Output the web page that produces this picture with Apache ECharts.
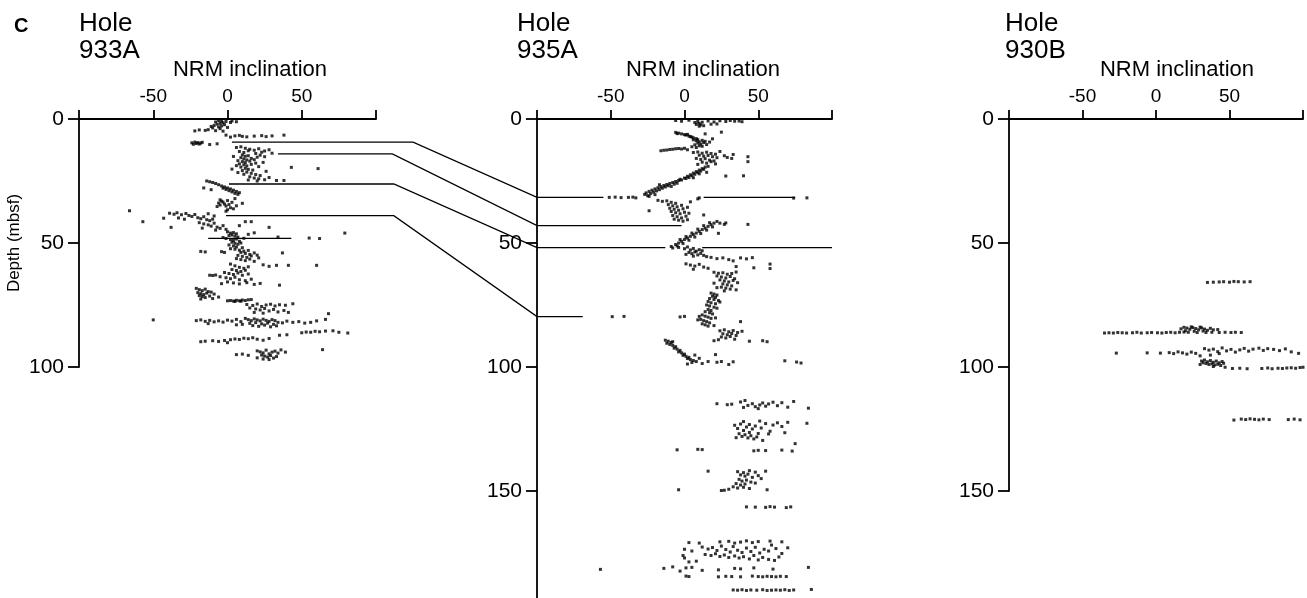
<!DOCTYPE html>
<html>
<head>
<meta charset="utf-8">
<title>NRM inclination</title>
<script src="https://cdn.jsdelivr.net/npm/echarts@6/dist/echarts.min.js"></script>
<style>
  html, body { margin: 0; padding: 0; background: #fff; }
  #chart { width: 1307px; height: 598px; }
</style>
</head>
<body>
<div id="chart"></div>
<script>
// hole names and depth range of each panel
var holeNames = ['933A', '935A', '930B'];
var depthMax = [100, 200, 150];

// NRM inclination [deg, depth mbsf]
var hole933A = [
  [-6,0.6],[-4,0.9],[-8,1.2],[-3,1.5],[-5,1.8],[-7,2.1],[-2,2.3],[-9,2.6],[-4,2.8],[-6,3.2],[-1,1.0],[2,1.4],
  [-11,3.0],[-10,3.6],[3,0.8],[6,1.1],[-5,3.9],[-13,4.3],[-15,4.6],[-19,4.4],[-22,4.8],[-8,4.7],[-3,4.9],[0,3.4],
  [5,6.8],[8,6.6],[10,7.0],[13,7.2],[18,6.9],[23,6.7],[26,7.1],[30,6.8],[38,6.5],[2,7.3],[-1,6.5],
  [-24,9.6],[-22,9.3],[-21,9.9],[-20,9.5],[-19,10.1],[-18,9.7],[-17,9.4],[-12,10.3],[-7,10.0],[-23,10.2],
  [6,11.5],[9,11.2],[12,11.8],[15,12.2],[18,12.6],[21,12.0],[25,12.9],[28,12.4],[8,13.1],[11,13.5],[14,12.8],
  [19,13.9],[23,13.4],[30,13.8],
  [10,14.5],[12,15.0],[14,14.8],[9,15.6],[11,16.1],[13,16.5],[16,15.9],[7,16.8],[10,17.2],[12,17.6],[15,17.0],
  [18,16.4],[20,15.4],[22,14.6],[25,15.2],[4,15.1],[8,18.1],[11,18.5],[13,18.9],[16,18.3],[19,17.8],[9,19.4],
  [12,19.9],[14,20.3],[10,20.8],[6,18.8],[3,20.2],[17,20.6],[21,19.2],[24,17.5],[13,21.4],[16,21.9],[19,22.4],
  [22,22.8],[11,22.3],[15,23.3],[18,23.8],[21,24.1],[25,24.5],[28,23.6],[14,24.6],[20,25.0],[43,19.5],[61,20.0],
  [33,24.8],[38,24.8],[7,21.6],[26,21.1],
  [-14,25.0],[-12,25.3],[-10,25.6],[-8,26.0],[-6,26.5],[-4,27.0],[-2,27.4],[0,27.8],[2,28.2],[4,28.7],[6,29.2],
  [8,29.7],[7,30.4],[5,30.0],[3,29.4],[1,28.9],[-1,28.4],[-3,27.9],[-16,27.8],[-11,28.5],
  [-5,32.6],[-4,33.1],[-3,33.5],[-6,33.9],[-2,34.3],[-5,34.7],[-1,35.1],[1,34.5],[3,33.6],[0,32.9],[5,32.1],[-7,35.3],
  [2,35.8],[4,36.2],[6,35.0],[0,36.6],[-1,37.2],[10,34.0],
  [-39,38.0],[-36,38.4],[-34,37.8],[-31,38.6],[-28,38.1],[-26,38.9],[-24,39.3],[-22,38.5],[-20,39.8],[-18,40.2],
  [-16,39.4],[-14,40.6],[-12,41.0],[-10,40.4],[-13,38.2],[-9,39.1],[-33,39.9],[-29,40.4],[-43,40.0],[-66,37.0],
  [-57,41.4],[-38,43.7],
  [-19,41.8],[-16,42.3],[-13,42.7],[-11,43.2],[-9,42.0],[-7,43.6],[-5,44.1],[-3,43.0],[-1,44.5],[-8,44.8],[-17,44.0],
  [16,41.4],[12,41.4],[28,43.7],[8,43.0],
  [0,45.5],[2,46.0],[4,45.8],[6,46.3],[3,46.8],[5,47.2],[7,47.6],[1,47.0],[-1,48.2],[2,48.6],[4,49.0],[6,48.4],
  [8,49.3],[3,49.7],[5,50.1],[7,50.5],[9,50.0],[1,50.8],[4,51.2],[6,51.6],[10,51.9],[2,52.3],[11,48.1],[-3,47.8],
  [55,48.0],[62,48.2],[79,46.0],[34,47.6],[14,46.5],[18,45.9],
  [5,52.5],[8,52.9],[11,53.3],[14,53.0],[9,53.8],[12,54.2],[15,54.6],[18,54.0],[7,55.0],[10,55.4],[13,55.8],
  [16,55.2],[20,54.9],[6,56.3],[9,56.7],[12,57.1],[15,56.5],[18,57.4],[21,56.0],[-18,53.4],[-15,53.6],[-4,53.5],
  [-2,53.8],[37,54.0],
  [41,59.0],[60,59.0],[33,59.0],[28,59.4],[24,58.8],[2,58.5],[5,59.2],[8,59.8],[11,60.2],[14,59.6],[3,60.7],
  [6,61.1],[9,61.5],[12,61.0],[-2,61.9],[1,62.3],[4,62.7],[7,62.1],[10,63.0],[14,62.5],[-12,63.0],[-10,63.1],
  [-8,62.9],[-5,63.6],[-1,64.0],[2,64.4],[5,63.8],[8,64.8],[12,65.2],[16,64.6],[0,65.7],[4,66.1],[8,66.5],
  [13,66.0],[18,66.7],[22,66.3],[35,67.0],[-4,66.4],
  [-21,68.3],[-19,68.8],[-17,69.2],[-15,68.6],[-13,69.6],[-20,70.0],[-18,70.4],[-16,70.8],[-14,70.2],[-11,69.8],
  [-19,71.2],[-17,71.6],[-15,72.0],[-12,71.4],[-9,70.6],[-6,71.8],[-10,72.4],[-18,72.6],
  [0,73.3],[2,73.2],[4,73.4],[6,73.1],[8,73.3],[10,73.0],[12,73.2],[14,72.9],[16,72.8],[5,73.6],[9,73.5],
  [13,74.8],[17,75.2],[20,74.6],[23,75.6],[26,75.0],[29,74.7],[32,75.4],[35,74.9],[39,75.1],[44,74.5],[15,76.2],
  [19,76.6],[22,77.0],[25,76.4],[28,77.4],[31,76.8],[34,77.8],[38,77.2],[41,78.0],[24,78.3],[18,78.0],[68,78.5],
  [-21,81.3],[-18,81.0],[-15,81.6],[-12,81.2],[-9,81.8],[-6,81.4],[-3,81.9],[0,81.1],[3,81.5],[6,80.8],[9,81.7],
  [12,80.4],[14,80.9],[16,81.3],[18,80.6],[20,81.0],[22,81.4],[24,80.7],[26,81.2],[28,81.6],[30,80.9],[32,81.3],
  [34,82.0],[15,82.4],[19,82.1],[23,82.6],[27,82.3],[31,82.8],[17,83.3],[21,83.6],[25,83.1],[29,83.8],[33,83.4],
  [37,82.2],[40,81.5],[44,82.0],[48,81.7],[52,82.3],[56,82.0],[60,81.4],[66,80.8],[-50,81.0],[10,82.8],[6,83.0],
  [-13,82.5],
  [50,86.2],[53,85.9],[56,86.0],[59,85.6],[62,85.8],[66,85.5],[71,85.4],[75,86.0],[81,86.3],[35,87.2],[40,87.0],
  [-18,89.8],[-15,89.6],[-10,89.4],[-6,89.7],[-2,89.3],[2,89.0],[5,88.7],[8,88.9],[11,88.4],[14,88.6],[17,88.2],
  [20,88.8],[24,89.2],[28,88.5],[0,90.2],
  [6,95.0],[10,94.8],[14,95.3],[20,93.5],[22,93.9],[24,94.3],[26,93.2],[28,94.7],[30,94.0],[32,93.6],[34,94.4],
  [23,95.2],[25,95.6],[27,96.0],[29,95.4],[31,96.4],[33,95.8],[24,96.8],[28,97.0],[20,96.3],[39,94.0],[64,93.0],
  [36,93.1]
];

var hole935A = [
  [-6,0.6],[-2,0.9],[3,0.5],[7,1.4],[9,1.0],[10,1.8],[11,2.4],[12,1.3],[10,2.9],[8,2.2],[13,2.7],[16,0.8],[20,1.2],
  [24,0.7],[28,1.0],[31,0.6],[34,0.9],[37,0.8],[39,1.1],[18,2.1],[22,2.0],
  [-6,5.4],[-4,5.7],[-2,6.0],[0,6.3],[1,6.5],[3,6.9],[4,7.1],[5,7.3],[6,7.6],[8,7.9],[9,8.3],[-5,5.9],[2,6.2],
  [25,5.3],[14,6.0],
  [6,8.4],[8,8.8],[10,9.2],[12,8.6],[14,9.0],[9,9.7],[11,10.1],[13,9.5],[7,10.4],[10,10.8],[15,10.3],[5,11.2],
  [8,11.5],[12,11.0],[17,9.3],[19,8.0],
  [-16,12.8],[-14,12.6],[-12,12.5],[-10,12.3],[-8,12.2],[-6,12.0],[-4,11.9],[-2,12.1],[0,11.8],[2,12.4],
  [6,13.5],[9,13.3],[12,13.8],[15,13.4],[18,13.9],[21,14.2],[10,14.6],[13,15.0],[16,14.7],[19,15.2],[22,15.6],
  [8,15.9],[11,16.3],[14,16.0],[17,16.6],[20,16.9],[12,17.4],[15,17.8],[18,17.2],[21,18.1],[9,18.3],[27,14.8],
  [29,15.5],[32,15.9],[33,14.3],[43,15.2],[43,17.2],[24,13.1],
  [-3,24.3],[0,23.8],[2,23.1],[4,22.5],[6,21.8],[8,21.2],[10,20.6],[12,20.0],[14,19.4],[3,23.6],[5,22.9],[7,22.3],
  [9,21.6],[11,21.0],[13,20.3],[1,24.0],[6,23.7],[10,22.1],[15,21.5],[28,23.0],[40,22.9],[16,19.1],
  [-4,24.8],[-6,25.2],[-8,25.6],[-10,26.0],[-12,26.4],[-14,26.8],[-16,27.3],[-18,27.7],[-20,28.2],[-22,28.7],
  [-24,29.2],[-26,29.8],[-27,30.4],[-25,30.9],[-23,30.1],[-21,29.5],[-19,29.0],[-17,28.5],[-15,27.9],[-13,27.4],
  [-11,26.9],[-9,27.2],[-7,26.3],[-5,25.9],[-20,30.5],[-24,31.2],[-17,26.5],[-2,24.6],
  [-51,31.6],[-47,31.5],[-43,31.7],[-38,31.6],[-35,31.5],[-33,31.8],[9,32.2],[10,31.8],[74,31.9],[83,31.8],
  [-18,32.8],[-15,33.2],[-12,33.0],[-9,33.6],[-6,34.0],[-11,34.5],[-8,35.0],[-5,35.4],[-2,34.8],[-10,36.0],
  [-7,36.4],[-4,36.8],[-1,36.2],[2,35.6],[-9,37.3],[-6,37.8],[-3,38.2],[0,37.6],[3,38.0],[-8,38.9],[-5,39.4],
  [-2,39.9],[1,39.2],[-7,40.4],[-4,40.8],[-1,41.2],[2,40.6],[-24,37.0],[13,38.7],[4,33.4],
  [22,41.3],[20,42.0],[18,42.6],[16,43.3],[14,44.0],[12,44.6],[10,45.3],[8,46.0],[6,46.6],[4,47.3],[2,48.0],
  [0,48.6],[-2,49.3],[-4,50.0],[-6,50.6],[-9,51.4],[19,43.5],[15,44.8],[11,46.2],[7,47.6],[3,48.9],[-1,50.2],
  [-5,51.2],[17,41.8],[13,43.0],[9,44.4],[5,46.0],[1,47.4],[-3,48.6],[24,42.0],[27,42.5],[43,42.5],[23,46.1],
  [28,41.9],
  [-8,52.0],[-4,51.8],[0,52.3],[2,51.6],[4,52.8],[6,52.2],[8,53.3],[10,52.7],[3,53.8],[5,54.3],[7,53.6],[9,54.8],
  [11,54.2],[13,55.0],[15,55.5],[6,55.3],[1,54.6],[12,53.1],
  [18,55.8],[22,56.3],[26,56.0],[30,56.7],[33,57.2],[38,56.0],[42,56.4],[46,55.9],[58,58.5],[1,58.4],[4,58.9],
  [7,59.3],[10,58.6],[13,59.7],[16,60.2],[6,60.6],[47,60.0],[58,60.3],[35,59.5],
  [20,61.8],[23,62.2],[26,62.0],[29,62.6],[32,62.3],[35,61.7],[22,63.3],[25,63.7],[28,64.1],[31,63.5],[34,64.4],
  [24,64.9],[27,65.3],[30,65.7],[33,65.1],[36,66.0],[26,66.5],[29,66.9],[32,67.3],[25,67.8],[28,68.2],[31,68.6],
  [22,68.0],[35,68.9],[27,69.3],[20,66.2],
  [18,70.2],[20,70.6],[22,71.0],[19,71.5],[21,71.9],[17,72.4],[20,72.8],[23,73.2],[16,73.6],[18,74.1],[21,74.5],
  [15,75.0],[17,75.4],[20,75.9],[22,76.3],[16,76.8],[18,77.2],[14,77.7],[17,78.1],[19,78.6],[12,79.0],[14,79.5],
  [16,79.9],[18,80.4],[11,80.8],[13,81.3],[15,81.7],[17,82.2],[12,82.6],[14,83.0],[16,83.5],[20,83.3],[9,81.0],
  [24,73.8],[10,79.6],[21,80.2],
  [-49,79.7],[-41,79.6],[-3,79.8],[0,79.6],
  [38,81.7],[24,85.4],[27,85.0],[30,85.8],[33,85.3],[36,86.1],[39,85.6],[26,86.6],[29,87.0],[32,86.5],[35,87.3],
  [25,87.9],[28,88.3],[31,87.7],[23,89.0],[34,88.8],[20,89.4],[44,89.6],[53,89.4],[56,89.8],
  [-13,89.2],[-11,89.6],[-9,90.1],[-12,90.4],[-10,90.9],[-8,91.3],[-6,91.8],[-7,92.4],[-5,92.8],[-3,93.3],
  [-4,93.9],[-2,94.3],[0,94.8],[-1,95.3],[1,95.7],[3,96.1],[2,96.6],[4,97.0],[6,97.4],[8,97.8],[5,98.2],[-8,89.8],
  [10,96.5],[7,95.2],[21,95.0],[25,97.8],[33,97.9],[68,97.5],[76,98.0],[79,98.4],[2,98.8],[12,98.6],
  [16,97.8],[22,98.1],[30,99.0],
  [22,114.8],[29,115.2],[32,115.0],[38,114.1],[40,116.3],[43,115.5],[46,114.8],[48,116.0],[51,115.3],[53,114.5],
  [55,115.8],[57,114.9],[60,114.2],[63,115.6],[66,114.4],[70,116.2],[74,113.9],[84,116.6],[41,113.5],[50,116.8],
  [34,123.5],[36,124.8],[38,123.0],[40,125.6],[42,124.2],[44,126.4],[46,125.0],[48,123.8],[50,126.8],[52,124.6],
  [55,122.8],[58,125.9],[60,123.4],[63,122.5],[66,124.0],[68,126.5],[70,122.3],[37,126.9],[39,128.0],[41,127.3],
  [43,128.6],[45,127.7],[47,129.0],[49,128.2],[35,128.5],[53,129.6],[57,127.0],[83,122.7],[75,130.9],[44,123.2],
  [40,122.0],[51,121.8],
  [-5,133.4],[9,133.2],[12,133.3],[47,133.8],[50,133.6],[55,133.7],[66,133.5],[73,133.9],
  [16,142.0],[36,142.2],[40,142.6],[44,141.8],[48,142.4],[55,142.0],[38,143.5],[41,144.0],[43,143.2],[46,144.5],
  [50,143.8],[37,145.3],[39,146.0],[42,145.6],[45,146.4],[35,147.0],[38,147.6],[41,147.2],[33,148.3],[36,148.8],
  [30,149.3],[27,149.7],[40,148.5],[44,149.0],[56,149.5],[-4,149.5],[25,149.8],[48,146.8],[52,145.0],
  [42,156.4],[48,156.5],[55,156.6],[58,156.3],[61,156.5],[69,156.7],[72,156.4],
  [3,170.8],[10,171.0],[24,170.5],[30,170.3],[34,171.0],[38,170.6],[42,170.1],[46,170.8],[50,170.4],[58,170.2],
  [66,170.5],[0,173.5],[5,174.2],[12,172.6],[16,173.4],[19,172.8],[22,174.0],[25,172.2],[28,173.6],[31,174.6],
  [33,172.4],[36,173.9],[39,174.8],[42,173.0],[45,174.4],[48,172.7],[51,175.0],[54,173.5],[57,174.2],[62,173.2],
  [66,175.2],[70,172.9],[14,175.6],[18,176.0],[21,175.3],[24,176.4],[27,175.8],[30,176.8],[34,176.2],[37,177.0],
  [40,176.5],[44,177.4],[47,176.0],[50,177.8],[53,176.8],[57,177.6],[61,178.0],[64,176.6],[0,177.0],[3,178.6],
  [-1,176.0],[8,178.3],[59,171.8],
  [-57,181.6],[-14,181.2],[-8,180.6],[1,181.0],[5,180.8],[12,182.0],[23,181.8],[34,181.2],[38,181.4],[47,181.0],
  [60,181.5],[84,180.8],[-3,182.3],
  [1,184.3],[3,184.5],[23,184.6],[28,184.4],[32,184.5],[38,184.6],[46,184.3],[50,184.5],[53,184.6],[56,184.4],
  [59,184.5],[62,184.6],[65,184.4],[69,184.5],
  [33,189.9],[36,190.0],[39,189.8],[42,190.1],[45,189.9],[49,190.0],[53,189.8],[56,190.1],[59,190.0],[62,189.9],
  [65,190.0],[68,189.8],[71,190.1],[74,189.9],[86,189.7]
];

var hole930B = [
  [35,65.9],[39,65.8],[43,65.7],[46,65.6],[50,65.8],[53,65.5],[56,65.6],[60,65.7],[64,65.6],
  [17,84.6],[19,84.0],[21,84.3],[23,84.8],[25,84.1],[27,84.5],[29,85.0],[31,84.2],[33,84.7],[35,85.2],[37,84.4],
  [39,85.0],[42,84.9],[20,85.4],[26,85.6],[32,85.5],[24,83.8],[30,83.9],
  [-35,86.3],[-32,86.2],[-29,86.3],[-26,86.1],[-23,86.2],[-20,86.3],[-16,86.2],[-13,86.0],[-10,86.3],[-6,86.2],
  [-3,86.1],[1,86.2],[4,86.3],[7,86.1],[10,86.0],[13,86.2],[16,86.0],[19,85.9],[22,86.0],[28,86.1],[34,86.1],
  [38,86.0],[43,86.1],[47,86.0],[51,86.1],[54,86.0],[58,86.1],
  [-27,94.4],[-6,94.3],[3,94.4],[9,94.2],[12,94.6],[15,93.9],[18,94.3],[21,94.8],[24,94.0],[27,94.5],[33,92.6],
  [36,93.2],[39,92.8],[42,93.8],[45,92.3],[48,93.5],[51,92.9],[54,94.0],[57,93.1],[60,92.5],[63,93.6],[66,92.8],
  [70,92.4],[73,93.3],[76,92.6],[80,92.9],[84,93.4],[88,92.7],[92,93.9],[97,94.5],[37,95.2],[30,95.5],[43,94.6],
  [31,97.6],[33,97.2],[35,97.9],[37,97.4],[39,98.1],[41,97.6],[43,98.3],[45,97.8],[34,98.6],[36,99.0],[38,98.7],
  [40,99.2],[42,98.9],[44,99.4],[46,98.5],[32,98.3],[39,99.8],[47,100.1],[30,99.0],
  [52,100.6],[57,100.5],[62,100.7],[72,100.6],[76,100.4],[79,100.7],[83,100.5],[86,100.6],[89,100.4],[92,100.3],
  [95,100.5],[98,100.2],[100,100.1],
  [53,121.4],[58,121.0],[61,121.2],[64,120.9],[67,121.1],[70,121.3],[73,121.0],[77,121.2],[90,121.2],[94,121.0],
  [98,121.3]
];

// correlation ties 933A -> 935A
var tieDepth933 = [9.3, 14.1, 26.2, 39.0];
var tieStart933 = [3, 34, 1, -1];
var tieElbow933 = [125, 111, 112, 112];
var tieDepth935 = [31.6, 43.0, 51.9, 79.7];
var tieEnd935 = [-55, -2, -13, -69];
// other horizontal marks: [from, to, depth]
var marks933 = [[-13, 43, 48.1]];
var marks935 = [[13, 75, 31.6], [12, 100, 51.9]];

var chart = echarts.init(document.getElementById('chart'));
var FONT = 'Liberation Sans, Arial, sans-serif';

var grids = [
  { left: 79, top: 119, width: 297, height: 248, outerBoundsMode: 'none' },
  { left: 537, top: 119, width: 295, height: 496, outerBoundsMode: 'none' },
  { left: 1009, top: 119, width: 294, height: 372, outerBoundsMode: 'none' }
];

var xAxes = grids.map(function (g, i) {
  return {
    gridIndex: i, type: 'value', position: 'top',
    min: -100, max: 100, interval: 50,
    axisLine: { lineStyle: { color: '#000', width: 1.8 } },
    axisTick: { length: 9, lineStyle: { color: '#000', width: 1.8 } },
    axisLabel: {
      color: '#000', fontFamily: FONT, fontSize: 19, margin: 13,
      formatter: function (v) { return Math.abs(v) === 100 ? '' : String(v); }
    },
    splitLine: { show: false }
  };
});

var yAxes = grids.map(function (g, i) {
  return {
    gridIndex: i, type: 'value', inverse: true,
    min: 0, max: depthMax[i], interval: 50,
    name: i === 0 ? 'Depth (mbsf)' : '',
    nameLocation: 'middle', nameRotate: 90, nameGap: 56,
    nameTextStyle: { color: '#000', fontFamily: FONT, fontSize: 17 },
    axisLine: { onZero: false, lineStyle: { color: '#000', width: 1.8 } },
    axisTick: { length: 11, lineStyle: { color: '#000', width: 1.8 } },
    axisLabel: { color: '#000', fontFamily: FONT, fontSize: 21, margin: 15 },
    splitLine: { show: false }
  };
});

function scatter(data, i) {
  return {
    type: 'scatter', xAxisIndex: i, yAxisIndex: i, data: data,
    symbol: 'rect', symbolSize: 3,
    itemStyle: { color: '#000' }, silent: true
  };
}

function marks(list, i) {
  return list.map(function (m) {
    return {
      type: 'line', xAxisIndex: i, yAxisIndex: i,
      data: [[m[0], m[2]], [m[1], m[2]]],
      symbol: 'none', silent: true,
      lineStyle: { color: '#000', width: 1.3 }
    };
  });
}

var series = [scatter(hole933A, 0), scatter(hole935A, 1), scatter(hole930B, 2)]
  .concat(marks(marks933, 0)).concat(marks(marks935, 1));

chart.setOption({
  animation: false,
  backgroundColor: '#fff',
  grid: grids,
  xAxis: xAxes,
  yAxis: yAxes,
  series: series
});

// texts and tie lines (tie points go through the axes' own scales)
var titleX = [79, 517, 1005];
var nrmX = [250, 703, 1177];
var elements = [{
  type: 'text', x: 14, y: 26,
  style: { text: 'C', font: 'bold 20px ' + FONT, fill: '#000', verticalAlign: 'middle' }
}];
holeNames.forEach(function (h, i) {
  elements.push({ type: 'text', x: titleX[i], y: 24,
    style: { text: 'Hole', font: '26px ' + FONT, fill: '#000', verticalAlign: 'middle' } });
  elements.push({ type: 'text', x: titleX[i], y: 51,
    style: { text: h, font: '26px ' + FONT, fill: '#000', verticalAlign: 'middle' } });
  elements.push({ type: 'text', x: nrmX[i], y: 70,
    style: { text: 'NRM inclination', font: '22px ' + FONT, fill: '#000', align: 'center', verticalAlign: 'middle' } });
});

tieDepth933.forEach(function (d, i) {
  var p0 = chart.convertToPixel({ gridIndex: 0 }, [tieStart933[i], d]);
  var p1 = chart.convertToPixel({ gridIndex: 0 }, [tieElbow933[i], d]);
  var p2 = chart.convertToPixel({ gridIndex: 1 }, [-100, tieDepth935[i]]);
  var p3 = chart.convertToPixel({ gridIndex: 1 }, [tieEnd935[i], tieDepth935[i]]);
  elements.push({
    type: 'polyline', silent: true,
    shape: { points: [p0, p1, p2, p3] },
    style: { stroke: '#000', lineWidth: 1.3, fill: null }
  });
});

chart.setOption({ graphic: { elements: elements } });
</script>
</body>
</html>
